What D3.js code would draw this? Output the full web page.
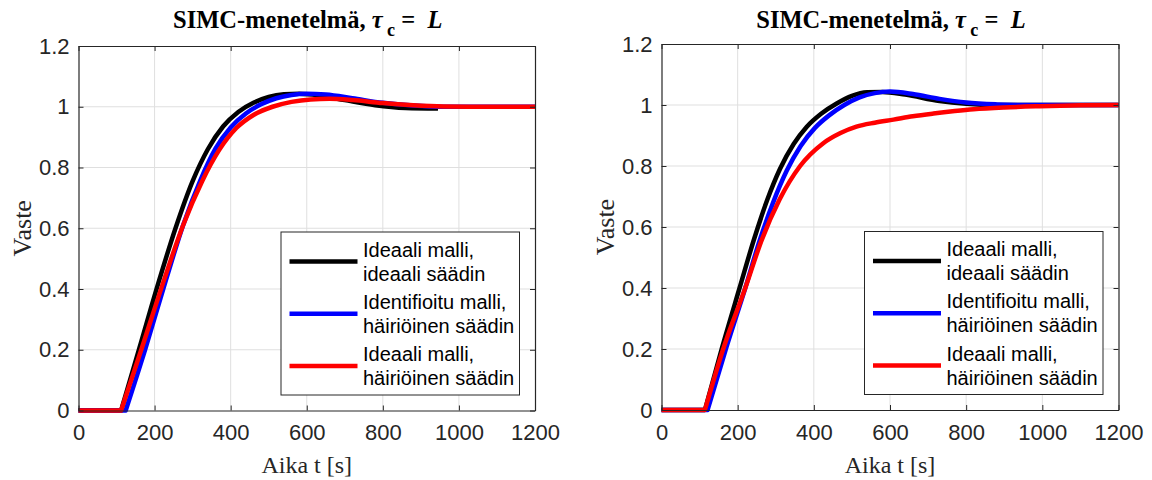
<!DOCTYPE html>
<html><head><meta charset="utf-8">
<script src="https://cdn.jsdelivr.net/npm/d3@7"></script>
<style>body{margin:0;background:#fff}</style>
</head><body>
<svg id="c" width="1152" height="480"></svg>
<script>
const xTicks = [0,200,400,600,800,1000,1200];
const yTicks = [0,0.2,0.4,0.6,0.8,1,1.2];
const legendLabels = [["Ideaali malli,","ideaali säädin"],["Identifioitu malli,","häiriöinen säädin"],["Ideaali malli,","häiriöinen säädin"]];
const seriesColors = ["#000000","#0000ff","#ff0000"];

// Left panel
const L_blackT = [0,112,160,210,255,300,340,380,420,460,500,540,580,630,700,780,860,945];
const L_blackV = [0,0,0.205,0.42,0.6,0.755,0.86,0.935,0.983,1.013,1.032,1.041,1.043,1.038,1.022,1.005,0.996,0.994];
const L_blueT  = [0,124,175,230,275,320,360,400,440,480,520,560,600,650,720,800,880,960,1200];
const L_blueV  = [0,0,0.2,0.43,0.61,0.757,0.862,0.932,0.978,1.008,1.028,1.039,1.043,1.04,1.028,1.013,1.004,1.0,1.0];
const L_redT   = [0,112,165,225,275,325,370,415,460,510,560,610,660,720,800,880,960,1050,1200];
const L_redV   = [0,0,0.2,0.43,0.61,0.755,0.858,0.93,0.973,1.0,1.016,1.024,1.026,1.022,1.012,1.005,1.001,1.0,1.0];

// Right panel
const R_blackT = [0,114,158,205,243,278,311,347,381,420,460,500,540,580,640,730,800,870,1200];
const R_blackV = [0,0,0.2,0.4,0.56,0.69,0.79,0.872,0.928,0.972,1.005,1.03,1.042,1.043,1.034,1.013,1.004,1.0,1.0];
const R_blueT  = [0,121,169,220,258,293,329,365,403,440,480,520,560,600,660,730,800,880,960,1200];
const R_blueV  = [0,0,0.2,0.4,0.557,0.68,0.785,0.865,0.925,0.966,1.0,1.025,1.039,1.044,1.036,1.02,1.008,1.002,1.0,1.0];
const R_redT   = [0,114,162,220,263,310,364,424,470,512,560,609,660,714,770,819,900,994,1100,1200];
const R_redV   = [0,0,0.2,0.4,0.557,0.69,0.8,0.874,0.908,0.929,0.942,0.952,0.963,0.972,0.98,0.986,0.992,0.996,0.999,1.0];

const panels = [
  {x0:78.5, x1:535, y0:410.5, y1:46, series:[[L_blackT,L_blackV],[L_blueT,L_blueV],[L_redT,L_redV]]},
  {x0:661.5, x1:1118.5, y0:410, y1:44, series:[[R_blackT,R_blackV],[R_blueT,R_blueV],[R_redT,R_redV]]}
];

const svg = d3.select("#c");
const axisCol = "#262626";
const sans = "'Liberation Sans', Arial, sans-serif";
const serif = "'Liberation Serif', 'Times New Roman', serif";

panels.forEach(p => {
  const x = d3.scaleLinear().domain([0,1200]).range([p.x0,p.x1]);
  const y = d3.scaleLinear().domain([0,1.2]).range([p.y0,p.y1]);
  const g = svg.append("g");
  g.selectAll(".gx").data(xTicks.slice(1,-1)).enter().append("line")
    .attr("x1",d=>x(d)).attr("x2",d=>x(d)).attr("y1",p.y0).attr("y2",p.y1)
    .attr("stroke","#dfdfdf").attr("stroke-width",1);
  g.selectAll(".gy").data(yTicks.slice(1,-1)).enter().append("line")
    .attr("y1",d=>y(d)).attr("y2",d=>y(d)).attr("x1",p.x0).attr("x2",p.x1)
    .attr("stroke","#dfdfdf").attr("stroke-width",1);
  const line = d3.line().x(d=>x(d[0])).y(d=>y(d[1])).curve(d3.curveMonotoneX);
  p.series.forEach((s,i) => {
    const pts = s[0].map((t,k)=>[t,s[1][k]]);
    const rest = pts.slice(1);
    const dStr = "M" + x(pts[0][0]) + "," + y(pts[0][1]) + "L" + line(rest).slice(1);
    g.append("path").attr("d",dStr).attr("fill","none")
      .attr("stroke",seriesColors[i]).attr("stroke-width",4.5)
      .attr("stroke-linejoin","round");
  });
  const axB = d3.axisBottom(x).tickValues(xTicks).tickSizeInner(-5).tickSizeOuter(0).tickPadding(14).tickFormat(d3.format("d"));
  const axT = d3.axisTop(x).tickValues(xTicks).tickSizeInner(-5).tickSizeOuter(0).tickFormat("");
  const axL = d3.axisLeft(y).tickValues(yTicks).tickSizeInner(-5).tickSizeOuter(0).tickPadding(9).tickFormat(d3.format("~g"));
  const axR = d3.axisRight(y).tickValues(yTicks).tickSizeInner(-5).tickSizeOuter(0).tickFormat("");
  [[axB,`translate(0,${p.y0})`],[axT,`translate(0,${p.y1})`],[axL,`translate(${p.x0},0)`],[axR,`translate(${p.x1},0)`]].forEach(([a,tr])=>{
    const ag = g.append("g").attr("transform",tr).call(a);
    ag.select(".domain").attr("stroke",axisCol).attr("stroke-width",1.2);
    ag.selectAll(".tick line").attr("stroke",axisCol);
    ag.selectAll(".tick text").attr("fill",axisCol).attr("font-family",sans).attr("font-size",22);
  });
  const cx = (p.x0+p.x1)/2;
  g.append("text").attr("x",cx).attr("y",473).attr("text-anchor","middle")
    .attr("font-family",serif).attr("font-size",24).attr("fill",axisCol).text("Aika t [s]");
  g.append("text").attr("transform",`translate(${p.x0-47.5},${(p.y0+p.y1)/2}) rotate(-90)`)
    .attr("text-anchor","middle").attr("font-family",serif).attr("font-size",26).attr("fill",axisCol).text("Vaste");
  const t = g.append("text").attr("x",cx+1).attr("y",28).attr("text-anchor","middle")
    .attr("font-family",serif).attr("font-size",24.5).attr("font-weight","bold").attr("fill","#000")
    .attr("xml:space","preserve").style("white-space","pre");
  t.append("tspan").text("SIMC-menetelmä, ");
  t.append("tspan").attr("font-style","italic").text("τ");
  t.append("tspan").attr("dy",8).attr("font-size",18).text(" c");
  t.append("tspan").attr("dy",-8).text(" =  ");
  t.append("tspan").attr("font-style","italic").text("L");
  const lx1 = p.x1 - 15.5, ly1 = p.y0 - 15.5, lw = 238.5, lh = 163;
  const lg = g.append("g");
  lg.append("rect").attr("x",lx1-lw).attr("y",ly1-lh).attr("width",lw).attr("height",lh)
    .attr("fill","#fff").attr("stroke",axisCol).attr("stroke-width",1);
  legendLabels.forEach((lab,i)=>{
    const yy = ly1 - lh + 29.5 + i*52.3;
    lg.append("line").attr("x1",lx1-lw+8.5).attr("x2",lx1-lw+76.5).attr("y1",yy).attr("y2",yy)
      .attr("stroke",seriesColors[i]).attr("stroke-width",4.5);
    lab.forEach((s,j)=>{
      lg.append("text").attr("x",lx1-lw+82).attr("y",yy-12+j*24+7)
        .attr("font-family",sans).attr("font-size",20).attr("fill","#000").text(s);
    });
  });
});
</script>
</body></html>
